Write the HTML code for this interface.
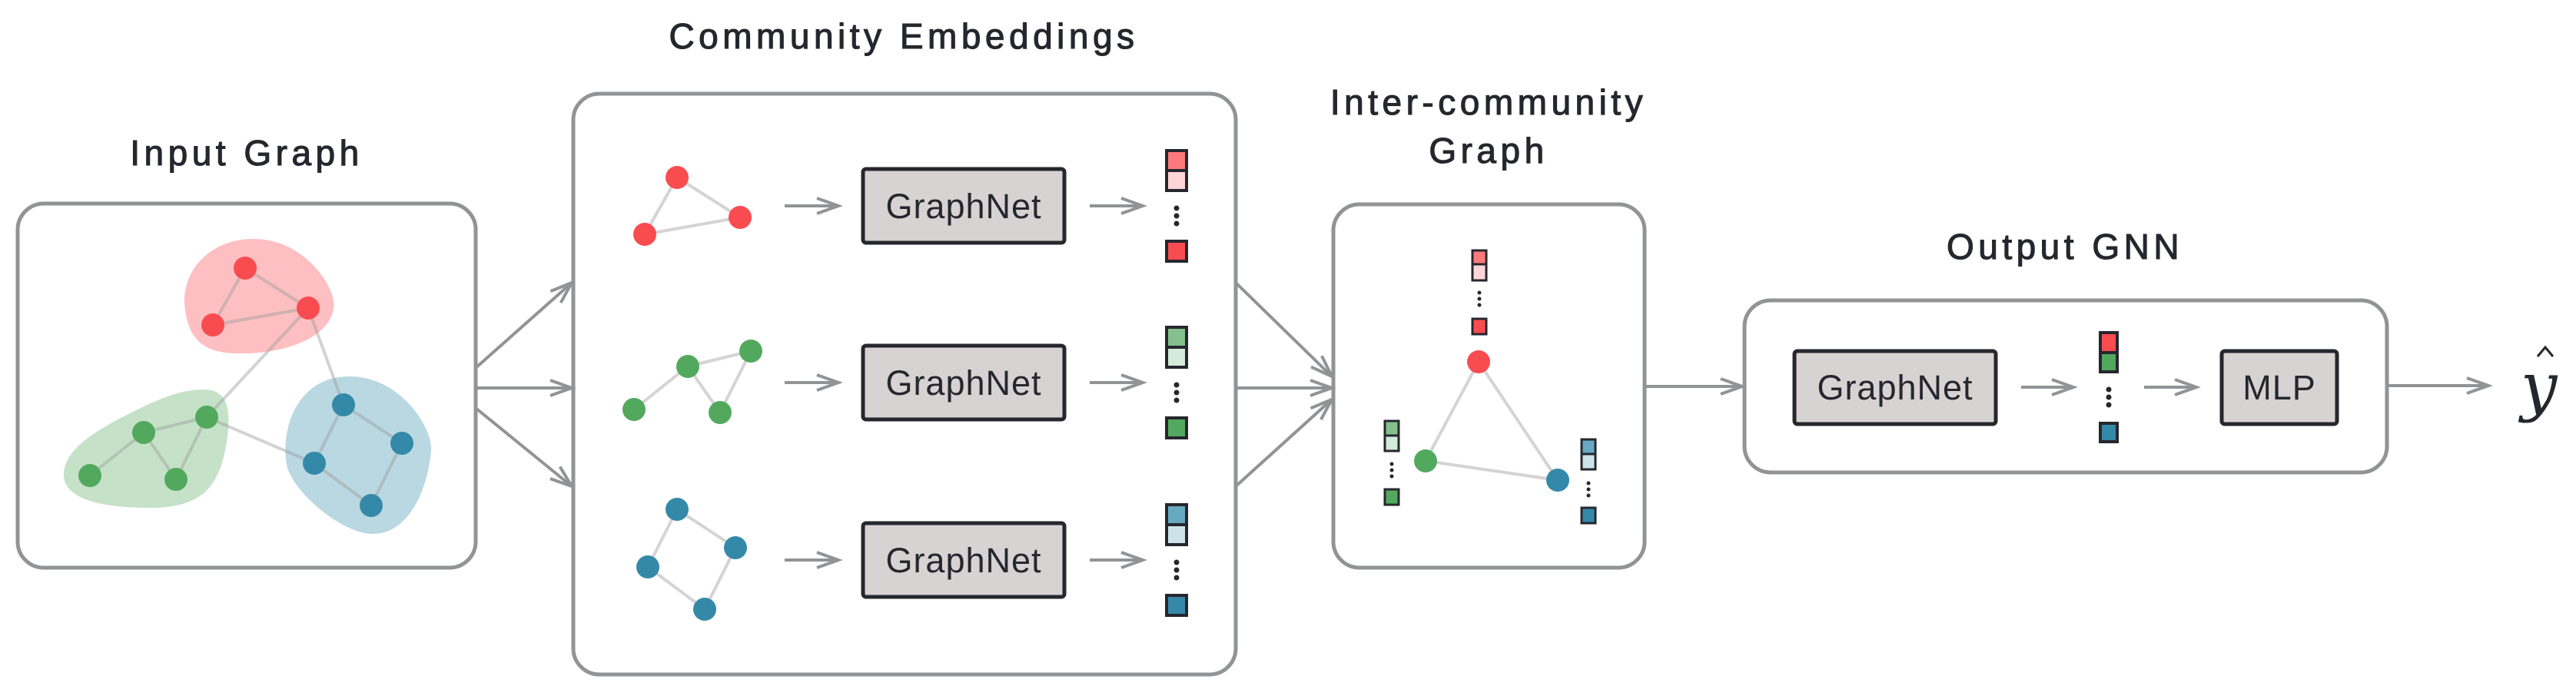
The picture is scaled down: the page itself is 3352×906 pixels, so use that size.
<!DOCTYPE html>
<html><head><meta charset="utf-8"><style>
html,body{margin:0;padding:0;background:#fff;}
svg{display:block;}
.t{font-family:"Liberation Sans",sans-serif;fill:#26272e;}
.h{font-family:"Liberation Sans",sans-serif;fill:#26272e;stroke:#26272e;stroke-width:1.1;letter-spacing:5.5px;}
</style></head><body>
<svg width="3352" height="906" viewBox="0 0 3352 906" xmlns="http://www.w3.org/2000/svg">
<defs>
<marker id="ah" markerWidth="40" markerHeight="30" refX="30" refY="15" orient="auto" markerUnits="userSpaceOnUse" viewBox="0 0 40 30">
<path d="M2,5 L30,15 L2,25" fill="none" stroke="#929396" stroke-width="4" stroke-linejoin="miter"/>
</marker>
</defs>
<g fill="none" stroke="#929396" stroke-width="5">
  <rect x="23" y="265" width="596" height="474" rx="34"/>
  <rect x="746" y="122" width="862" height="756" rx="34"/>
  <rect x="1735" y="266" width="405" height="473" rx="34"/>
  <rect x="2270" y="391" width="836" height="224" rx="34"/>
</g>
<g class="h" font-size="46" text-anchor="middle">
  <text x="321" y="215">Input Graph</text>
  <text x="1176" y="63">Community Embeddings</text>
  <text x="1937" y="149">Inter-community</text>
  <text x="1937" y="212">Graph</text>
  <text x="2687" y="337">Output GNN</text>
</g>
<!-- connectors -->
<g stroke="#929396" stroke-width="4" fill="none" marker-end="url(#ah)">
  <line x1="620" y1="478" x2="744" y2="368"/>
  <line x1="620" y1="505" x2="744" y2="505"/>
  <line x1="620" y1="532" x2="744" y2="633"/>
  <line x1="1608" y1="368" x2="1733" y2="490"/>
  <line x1="1608" y1="505" x2="1733" y2="505"/>
  <line x1="1608" y1="633" x2="1733" y2="520"/>
  <line x1="2142" y1="503" x2="2267" y2="503"/>
  <line x1="3108" y1="502" x2="3238" y2="502"/>
  <line x1="1021" y1="268" x2="1091" y2="268"/>
  <line x1="1021" y1="498" x2="1091" y2="498"/>
  <line x1="1021" y1="729" x2="1091" y2="729"/>
  <line x1="1418" y1="268" x2="1487" y2="268"/>
  <line x1="1418" y1="498" x2="1487" y2="498"/>
  <line x1="1418" y1="729" x2="1487" y2="729"/>
  <line x1="2630" y1="504" x2="2698" y2="504"/>
  <line x1="2790" y1="504" x2="2858" y2="504"/>
</g>
<!-- input graph blobs -->
<path d="M330,311 C400,311 440,380 434,402 C428,440 370,462 305,460 C262,458 244,440 240,395 C238,350 275,311 330,311 Z" fill="#fdbfc1"/>
<path d="M265,507 C300,507 300,540 295,575 C287,625 270,660 200,661 C120,662 80,645 83,615 C86,585 120,562 175,535 C215,515 240,507 265,507 Z" fill="#c5e2c8"/>
<path d="M455,490 C520,490 562,555 561,585 C558,630 535,695 485,695 C445,695 380,640 373,605 C365,560 385,490 455,490 Z" fill="#b9d8e1"/>
<g stroke="#9e9e9e" stroke-opacity="0.45" stroke-width="4">
  <line x1="319" y1="349" x2="401" y2="401"/><line x1="319" y1="349" x2="277" y2="423"/><line x1="277" y1="423" x2="401" y2="401"/>
  <line x1="401" y1="401" x2="269" y2="543"/><line x1="401" y1="401" x2="447" y2="527"/><line x1="269" y1="543" x2="409" y2="603"/>
  <line x1="187" y1="563" x2="269" y2="543"/><line x1="187" y1="563" x2="117" y2="619"/><line x1="187" y1="563" x2="229" y2="624"/><line x1="229" y1="624" x2="269" y2="543"/>
  <line x1="447" y1="527" x2="523" y2="577"/><line x1="447" y1="527" x2="409" y2="603"/><line x1="409" y1="603" x2="483" y2="658"/><line x1="523" y1="577" x2="483" y2="658"/>
</g>
<g fill="#f94c51"><circle cx="319" cy="349" r="15"/><circle cx="401" cy="401" r="15"/><circle cx="277" cy="423" r="15"/></g>
<g fill="#52a95e"><circle cx="269" cy="543" r="15"/><circle cx="187" cy="563" r="15"/><circle cx="117" cy="619" r="15"/><circle cx="229" cy="624" r="15"/></g>
<g fill="#3589a8"><circle cx="447" cy="527" r="15"/><circle cx="523" cy="577" r="15"/><circle cx="409" cy="603" r="15"/><circle cx="483" cy="658" r="15"/></g>
<!-- community subgraphs -->
<g stroke="#d5d3d3" stroke-width="4">
  <line x1="881" y1="231" x2="963" y2="283"/><line x1="881" y1="231" x2="839" y2="305"/><line x1="839" y1="305" x2="963" y2="283"/>
  <line x1="977" y1="457" x2="895" y2="477"/><line x1="895" y1="477" x2="825" y2="533"/><line x1="895" y1="477" x2="937" y2="537"/><line x1="977" y1="457" x2="937" y2="537"/>
  <line x1="881" y1="663" x2="957" y2="713"/><line x1="881" y1="663" x2="843" y2="738"/><line x1="843" y1="738" x2="917" y2="793"/><line x1="957" y1="713" x2="917" y2="793"/>
</g>
<g fill="#f94c51"><circle cx="881" cy="231" r="15"/><circle cx="963" cy="283" r="15"/><circle cx="839" cy="305" r="15"/></g>
<g fill="#52a95e"><circle cx="977" cy="457" r="15"/><circle cx="895" cy="477" r="15"/><circle cx="825" cy="533" r="15"/><circle cx="937" cy="537" r="15"/></g>
<g fill="#3589a8"><circle cx="881" cy="663" r="15"/><circle cx="957" cy="713" r="15"/><circle cx="843" cy="738" r="15"/><circle cx="917" cy="793" r="15"/></g>
<!-- GraphNet boxes -->
<g fill="#d7d3d3" stroke="#26272e" stroke-width="5">
  <rect x="1123" y="220" width="262" height="96" rx="4"/>
  <rect x="1123" y="450" width="262" height="96" rx="4"/>
  <rect x="1123" y="681" width="262" height="96" rx="4"/>
  <rect x="2335" y="457" width="262" height="95" rx="4"/>
  <rect x="2891" y="457" width="150" height="95" rx="4"/>
</g>
<g class="t" font-size="45" text-anchor="middle" letter-spacing="1">
  <text x="1254" y="284">GraphNet</text>
  <text x="1254" y="514">GraphNet</text>
  <text x="1254" y="745">GraphNet</text>
  <text x="2466" y="520">GraphNet</text>
  <text x="2966" y="520">MLP</text>
</g>
<!-- vectors in community -->
<g stroke="#26272e" stroke-width="4">
  <rect x="1518" y="196" width="26" height="26" fill="#fd7a7c"/><rect x="1518" y="222" width="26" height="26" fill="#fed5d6"/><rect x="1518" y="314" width="26" height="26" fill="#f94c51"/>
  <rect x="1518" y="426" width="26" height="26" fill="#83c08b"/><rect x="1518" y="452" width="26" height="26" fill="#d4eadb"/><rect x="1518" y="544" width="26" height="26" fill="#52a95e"/>
  <rect x="1518" y="657" width="26" height="26" fill="#67a9c1"/><rect x="1518" y="683" width="26" height="26" fill="#cde3ea"/><rect x="1518" y="775" width="26" height="26" fill="#3589a8"/>
</g>
<g fill="#26272e">
  <circle cx="1531" cy="271" r="3.5"/><circle cx="1531" cy="281" r="3.5"/><circle cx="1531" cy="291" r="3.5"/>
  <circle cx="1531" cy="501" r="3.5"/><circle cx="1531" cy="511" r="3.5"/><circle cx="1531" cy="521" r="3.5"/>
  <circle cx="1531" cy="732" r="3.5"/><circle cx="1531" cy="742" r="3.5"/><circle cx="1531" cy="752" r="3.5"/>
</g>
<!-- inter-community graph -->
<g stroke="#d5d3d3" stroke-width="4">
  <line x1="1924" y1="471" x2="1855" y2="600"/><line x1="1924" y1="471" x2="2027" y2="625"/><line x1="1855" y1="600" x2="2027" y2="625"/>
</g>
<circle cx="1924" cy="471" r="15" fill="#f94c51"/><circle cx="1855" cy="600" r="15" fill="#52a95e"/><circle cx="2027" cy="625" r="15" fill="#3589a8"/>
<g stroke="#26272e" stroke-width="3">
  <rect x="1916" y="326" width="18" height="18" fill="#fd7a7c"/><rect x="1916" y="344" width="18" height="21" fill="#fed5d6"/><rect x="1916" y="415" width="18" height="20" fill="#f94c51"/>
  <rect x="1802" y="548" width="18" height="19" fill="#83c08b"/><rect x="1802" y="567" width="18" height="20" fill="#d4eadb"/><rect x="1802" y="637" width="18" height="20" fill="#52a95e"/>
  <rect x="2058" y="572" width="18" height="19" fill="#67a9c1"/><rect x="2058" y="591" width="18" height="20" fill="#cde3ea"/><rect x="2058" y="661" width="18" height="20" fill="#3589a8"/>
</g>
<g fill="#26272e">
  <circle cx="1925" cy="381" r="2.5"/><circle cx="1925" cy="389" r="2.5"/><circle cx="1925" cy="397" r="2.5"/>
  <circle cx="1811" cy="604" r="2.5"/><circle cx="1811" cy="612" r="2.5"/><circle cx="1811" cy="620" r="2.5"/>
  <circle cx="2067" cy="629" r="2.5"/><circle cx="2067" cy="637" r="2.5"/><circle cx="2067" cy="645" r="2.5"/>
</g>
<!-- output vector -->
<g stroke="#26272e" stroke-width="4">
  <rect x="2733" y="433" width="22" height="26" fill="#f94c51"/><rect x="2733" y="459" width="22" height="25" fill="#52a95e"/><rect x="2733" y="551" width="22" height="24" fill="#3589a8"/>
</g>
<g fill="#26272e"><circle cx="2744" cy="507" r="3.5"/><circle cx="2744" cy="517" r="3.5"/><circle cx="2744" cy="527" r="3.5"/></g>
<!-- y hat -->
<text x="3280" y="532" font-family="'DejaVu Serif','Liberation Serif',serif" font-style="italic" font-size="84" fill="#26272e">y</text>
<polyline points="3302,464 3312,452 3322,464" fill="none" stroke="#26272e" stroke-width="3"/>
</svg>
</body></html>
